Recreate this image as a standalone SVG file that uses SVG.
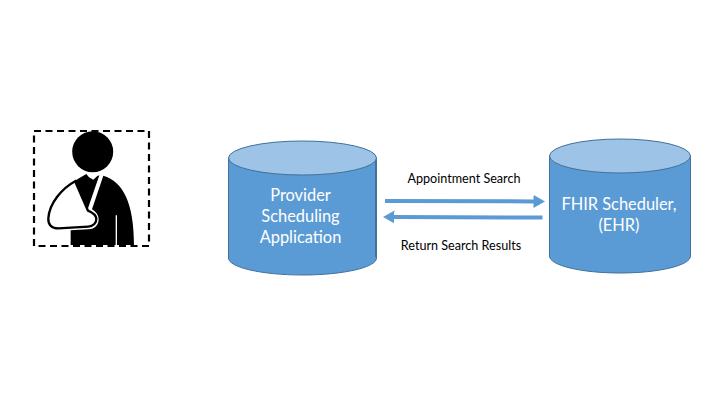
<svg xmlns="http://www.w3.org/2000/svg" width="720" height="405" viewBox="0 0 720 405">
<style>
text{font-family:"Lato","Open Sans","Liberation Sans",sans-serif;text-anchor:middle}
.big{font-size:16.4px;fill:#fff}
.small{font-size:12.6px;fill:#000}
.body{fill:#5b9bd5;stroke:#41719c;stroke-width:1}
.top{fill:#9dc3e6;stroke:#41719c;stroke-width:1}
.arrow{fill:none;stroke:#5b9bd5;stroke-width:4}
</style>
<defs>
<marker id="head" markerUnits="userSpaceOnUse" markerWidth="12" markerHeight="13" refX="0.500" refY="6.500" orient="auto"><path d="M0 0L11.500 6.500L0 13Z" fill="#5b9bd5"/></marker>
</defs>
<rect width="720" height="405" fill="#fff"/>
<g id="patient">
<rect x="34" y="131" width="115" height="115" fill="none" stroke="#000" stroke-width="2.200" stroke-dasharray="7 4.500"/>
<circle cx="92.700" cy="151.700" r="20.500" fill="#000"/>
<g transform="translate(20 120) scale(.3333)">
<path d="M172 178L199 162L207 172L220 179L232 168L238 166L203 268L168 190Z" fill="#000"/>
<path d="M250 167C310 185 342 250 342 375H291V286H287V375H152V331L205 328C225 328 236 314 236 298C236 285 228 276 216 268Z" fill="#000"/>
<path d="M168 182C125 205 88 250 85 295C84 315 95 325 115 325L205 320C220 319 230 308 229 296C228 286 218 278 204 272L168 190Z" fill="#fff" stroke="#000" stroke-width="7" stroke-linejoin="round"/>
</g>
</g>
<g id="provider">
<path class="body" d="M228.500 158V258C228.500 267.400 261.600 275 302.500 275S376.500 267.400 376.500 258V158Z"/>
<path d="M376 160V257" fill="none" stroke="#41719c" stroke-width="2"/>
<ellipse class="top" cx="302.500" cy="158" rx="74" ry="17"/>
<text class="big" x="300.500" y="201">Provider</text>
<text class="big" x="300.500" y="221.500">Scheduling</text>
<text class="big" x="300.500" y="243">Application</text>
</g>
<g id="fhir">
<path class="body" d="M549.500 156V256C549.500 265.400 581 273 620 273S690.500 265.400 690.500 256V156Z"/>
<ellipse class="top" cx="620" cy="156" rx="70.500" ry="17"/>
<text class="big" x="619" y="209.500">FHIR Scheduler,</text>
<text class="big" x="619" y="230.500">(EHR)</text>
</g>
<g id="connectors">
<path class="arrow" d="M385 201L534 201.400" marker-end="url(#head)"/>
<path class="arrow" d="M542.500 217.500L394 217" marker-end="url(#head)"/>
</g>
<text class="small" x="464" y="182.500">Appointment Search</text>
<text class="small" x="461" y="249.500">Return Search Results</text>
</svg>
